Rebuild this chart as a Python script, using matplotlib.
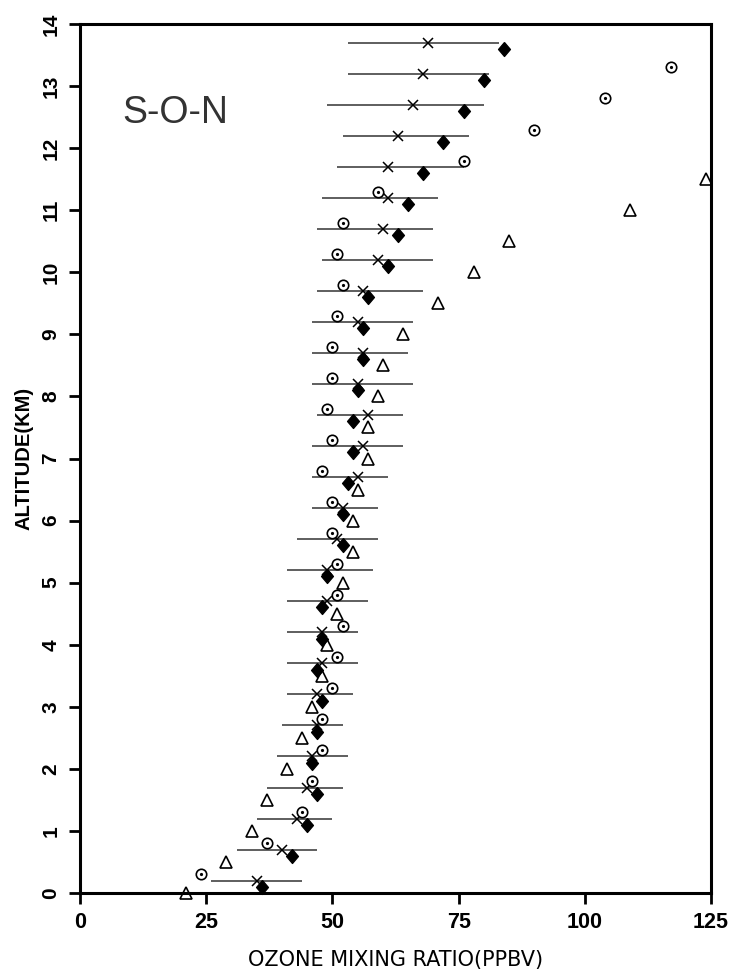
import matplotlib
matplotlib.use('Agg')
import matplotlib.pyplot as plt

# S-O-N ozone profiles (ppbv) vs altitude (km)
# mean profile with +/- spread (x marker + horizontal bar)
alt_mean = [13.7, 13.2, 12.7, 12.2, 11.7, 11.2, 10.7, 10.2, 9.7, 9.2, 8.7, 8.2, 7.7, 7.2,
            6.7, 6.2, 5.7, 5.2, 4.7, 4.2, 3.7, 3.2, 2.7, 2.2, 1.7, 1.2, 0.7, 0.2]
ozone_mean = [69, 68, 66, 63, 61, 61, 60, 59, 56, 55, 56, 55, 57, 56,
              55, 52, 51, 49, 49, 48, 48, 47, 47, 46, 45, 43, 40, 35]
ozone_lo = [53, 53, 49, 52, 51, 48, 47, 48, 47, 46, 46, 46, 47, 46,
            46, 46, 43, 41, 41, 41, 41, 41, 40, 39, 37, 35, 31, 26]
ozone_hi = [83, 81, 80, 77, 76, 71, 70, 70, 68, 66, 65, 66, 64, 64,
            61, 59, 59, 58, 57, 55, 55, 54, 52, 53, 52, 50, 47, 44]

# filled diamonds
alt_diamond = [13.6, 13.1, 12.6, 12.1, 11.6, 11.1, 10.6, 10.1, 9.6, 9.1, 8.6, 8.1, 7.6, 7.1,
               6.6, 6.1, 5.6, 5.1, 4.6, 4.1, 3.6, 3.1, 2.6, 2.1, 1.6, 1.1, 0.6, 0.1]
ozone_diamond = [84, 80, 76, 72, 68, 65, 63, 61, 57, 56, 56, 55, 54, 54,
                 53, 52, 52, 49, 48, 48, 47, 48, 47, 46, 47, 45, 42, 36]

# dotted circles
alt_circle = [13.3, 12.8, 12.3, 11.8, 11.3, 10.8, 10.3, 9.8, 9.3, 8.8, 8.3, 7.8, 7.3, 6.8,
              6.3, 5.8, 5.3, 4.8, 4.3, 3.8, 3.3, 2.8, 2.3, 1.8, 1.3, 0.8, 0.3]
ozone_circle = [117, 104, 90, 76, 59, 52, 51, 52, 51, 50, 50, 49, 50, 48,
                50, 50, 51, 51, 52, 51, 50, 48, 48, 46, 44, 37, 24]

# open triangles
alt_triangle = [11.5, 11.0, 10.5, 10.0, 9.5, 9.0, 8.5, 8.0, 7.5, 7.0, 6.5, 6.0,
                5.5, 5.0, 4.5, 4.0, 3.5, 3.0, 2.5, 2.0, 1.5, 1.0, 0.5, 0.0]
ozone_triangle = [124, 109, 85, 78, 71, 64, 60, 59, 57, 57, 55, 54,
                  54, 52, 51, 49, 48, 46, 44, 41, 37, 34, 29, 21]

x_ticks = [0, 25, 50, 75, 100, 125]
y_ticks = list(range(0, 15))

# slightly tall diamond
diamond = [(0, 1), (0.85, 0), (0, -1), (-0.85, 0), (0, 1)]

fig = plt.figure(figsize=(7.48, 9.71), dpi=100)
ax = fig.add_axes([0.107, 0.0803, 0.8436, 0.895])

ax.hlines(alt_mean, ozone_lo, ozone_hi, colors='#333333', linewidth=1.1)
ax.plot(ozone_mean, alt_mean, 'x', color='black', ms=7, mew=1.1, clip_on=False)
ax.plot(ozone_diamond, alt_diamond, marker=diamond, ls='none', color='black', ms=10, clip_on=False)
ax.plot(ozone_circle, alt_circle, 'o', mfc='white', mec='black', ms=7.5, mew=1.2, clip_on=False)
ax.plot(ozone_circle, alt_circle, 'o', color='black', ms=1.3, clip_on=False)
ax.plot(ozone_triangle, alt_triangle, '^', mfc='none', mec='black', ms=8.5, mew=1.2, clip_on=False)

ax.set_xlim(0, 125)
ax.set_ylim(0, 14)
ax.set_xticks(x_ticks)
ax.set_yticks(y_ticks)
ax.set_xticklabels([str(v) for v in x_ticks], fontfamily='Liberation Sans',
                   fontweight='bold', fontsize=15.5)
ax.set_yticklabels([str(v) for v in y_ticks], fontfamily='Liberation Sans',
                   fontweight='bold', fontsize=15, rotation=90, va='center')

for s in ax.spines.values():
    s.set_linewidth(2.2)
ax.tick_params(axis='both', direction='out', length=8, width=2, pad=6)

ax.set_xlabel('OZONE MIXING RATIO(PPBV)', fontfamily='DejaVu Sans', fontsize=15, labelpad=12)
ax.set_ylabel('ALTITUDE(KM)', fontfamily='Liberation Sans', fontweight='bold', fontsize=14.5, labelpad=6)

ax.text(0.067, 0.898, 'S-O-N', transform=ax.transAxes, fontfamily='Liberation Sans',
        fontsize=27, color='#333333', ha='left', va='center')

fig.savefig('out.png', dpi=100)
